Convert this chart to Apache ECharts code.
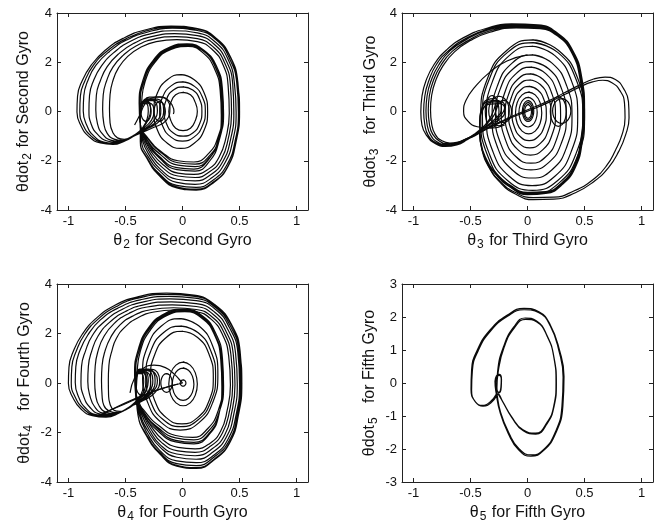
<!DOCTYPE html>
<html>
<head>
<meta charset="utf-8">
<script src="https://cdn.jsdelivr.net/npm/echarts@6/dist/echarts.min.js"></script>
<style>
  html, body { margin: 0; padding: 0; background: #fff; }
  #chart { width: 658px; height: 527px; }
</style>
</head>
<body>
<div id="chart"></div>
<script>
// ---- tick values ----
const thetaTicks = [-1, -0.5, 0, 0.5, 1];

// ---- Second gyro: phase trajectory (theta, thetadot) ----
// wide kidney-shaped excursions around the left lobe (one continuous path);
// each pass curls through a small loop left of the origin before dropping into the lobe
const gyro2Outer = [
  [-0.375,-0.45],[-0.37,0.15],[-0.34,0.42],[-0.30,0.40],[-0.28,0.05],[-0.30,-0.32],[-0.35,-0.68],[-0.43,-0.98],[-0.51,-1.20],[-0.61,-1.34],[-0.72,-1.28],[-0.82,-1.02],[-0.89,-0.58],[-0.925,-0.02],[-0.92,0.62],[-0.88,1.24],[-0.80,1.88],[-0.68,2.48],[-0.52,2.97],[-0.33,3.31],[-0.10,3.47],[0.12,3.38],[0.30,2.96],[0.42,2.22],[0.485,1.20],[0.50,0.00],[0.47,-1.22],[0.40,-2.22],[0.28,-2.86],[0.12,-3.19],[-0.05,-3.10],[-0.20,-2.62],[-0.31,-1.92],[-0.37,-1.22],
  [-0.37,-0.45],[-0.36,0.20],[-0.31,0.52],[-0.22,0.50],[-0.165,0.05],[-0.20,-0.38],[-0.30,-0.68],[-0.42,-0.98],[-0.50,-1.19],[-0.60,-1.32],[-0.71,-1.26],[-0.80,-1.00],[-0.87,-0.56],[-0.90,0.00],[-0.895,0.63],[-0.855,1.25],[-0.78,1.88],[-0.66,2.46],[-0.50,2.94],[-0.32,3.27],[-0.09,3.43],[0.13,3.34],[0.30,2.93],[0.42,2.20],[0.48,1.19],[0.50,-0.02],[0.47,-1.22],[0.40,-2.20],[0.28,-2.83],[0.12,-3.15],[-0.05,-3.06],[-0.20,-2.58],[-0.31,-1.90],[-0.37,-1.22],
  [-0.37,-0.45],[-0.365,0.15],[-0.33,0.45],[-0.26,0.44],[-0.22,0.05],[-0.25,-0.36],[-0.33,-0.70],[-0.42,-0.96],[-0.50,-1.16],[-0.59,-1.30],[-0.69,-1.24],[-0.78,-0.98],[-0.84,-0.55],[-0.87,0.02],[-0.865,0.64],[-0.83,1.25],[-0.76,1.87],[-0.64,2.44],[-0.49,2.90],[-0.31,3.22],[-0.09,3.38],[0.13,3.29],[0.30,2.89],[0.41,2.17],[0.475,1.18],[0.49,-0.03],[0.46,-1.22],[0.39,-2.16],[0.27,-2.78],[0.12,-3.08],[-0.05,-3.00],[-0.20,-2.54],[-0.31,-1.88],[-0.37,-1.22],
  [-0.37,-0.45],[-0.35,0.25],[-0.29,0.58],[-0.19,0.58],[-0.11,0.15],[-0.14,-0.35],[-0.27,-0.68],[-0.41,-0.96],[-0.49,-1.13],[-0.57,-1.26],[-0.66,-1.20],[-0.74,-0.95],[-0.80,-0.52],[-0.82,0.04],[-0.815,0.65],[-0.78,1.25],[-0.71,1.85],[-0.60,2.40],[-0.46,2.84],[-0.29,3.14],[-0.08,3.28],[0.13,3.19],[0.29,2.81],[0.40,2.11],[0.455,1.15],[0.47,-0.04],[0.44,-1.20],[0.37,-2.10],[0.26,-2.68],[0.11,-2.96],[-0.05,-2.88],[-0.19,-2.46],[-0.30,-1.84],[-0.36,-1.20],
  [-0.37,-0.45],[-0.37,0.10],[-0.34,0.36],[-0.285,0.34],[-0.25,0.00],[-0.27,-0.34],[-0.34,-0.68],[-0.41,-0.94],[-0.48,-1.11],[-0.55,-1.22],[-0.63,-1.16],[-0.70,-0.92],[-0.745,-0.50],[-0.76,0.06],[-0.755,0.66],[-0.72,1.25],[-0.66,1.82],[-0.56,2.34],[-0.43,2.76],[-0.27,3.04],[-0.07,3.16],[0.13,3.08],[0.28,2.72],[0.385,2.04],[0.44,1.12],[0.45,-0.05],[0.42,-1.16],[0.355,-2.02],[0.25,-2.56],[0.11,-2.82],[-0.05,-2.75],[-0.19,-2.36],[-0.29,-1.78],[-0.35,-1.18],
  [-0.37,-0.45],[-0.36,0.18],[-0.32,0.48],[-0.24,0.46],[-0.19,0.05],[-0.22,-0.36],[-0.32,-0.70],[-0.41,-0.92],[-0.47,-1.08],[-0.53,-1.18],[-0.60,-1.12],[-0.66,-0.89],[-0.69,-0.48],[-0.70,0.08],[-0.695,0.67],[-0.665,1.25],[-0.61,1.80],[-0.52,2.28],[-0.40,2.68],[-0.25,2.94],[-0.06,3.04],[0.13,2.96],[0.27,2.62],[0.37,1.97],[0.42,1.08],[0.43,-0.06],[0.40,-1.12],[0.34,-1.94],[0.24,-2.44],[0.11,-2.68],[-0.04,-2.62],[-0.18,-2.26],[-0.28,-1.72],[-0.34,-1.16],
  [-0.37,-0.45],[-0.37,0.12],[-0.35,0.34],[-0.315,0.32],[-0.30,0.02],[-0.31,-0.30],[-0.35,-0.66],[-0.40,-0.90],[-0.45,-1.05],[-0.51,-1.13],[-0.57,-1.07],[-0.61,-0.86],[-0.635,-0.46],[-0.64,0.10],[-0.635,0.68],[-0.61,1.25],[-0.56,1.78],[-0.48,2.24],[-0.37,2.60],[-0.23,2.84],[-0.05,2.92],[0.13,2.84],[0.26,2.52],[0.355,1.90],[0.40,1.04],[0.41,-0.07],[0.38,-1.08],[0.32,-1.86],[0.23,-2.33],[0.10,-2.55],[-0.04,-2.50],[-0.17,-2.16],[-0.27,-1.66],[-0.33,-1.14],[-0.37,-0.55]
];
// dense band of orbits around the origin
const gyro2Band = [
  [-0.37,-0.55],[-0.37,0.30],[-0.34,1.20],[-0.25,2.05],[-0.10,2.60],[0.05,2.72],[0.19,2.45],[0.29,1.80],[0.34,0.90],[0.35,-0.10],[0.31,-1.05],[0.23,-1.70],[0.10,-2.05],[-0.04,-2.00],[-0.18,-1.65],[-0.30,-1.10],
  [-0.37,-0.52],[-0.38,0.32],[-0.35,1.22],[-0.26,2.06],[-0.11,2.62],[0.04,2.75],[0.19,2.48],[0.30,1.82],[0.35,0.90],[0.36,-0.12],[0.32,-1.10],[0.24,-1.78],[0.11,-2.14],[-0.04,-2.08],[-0.18,-1.70],[-0.30,-1.12],
  [-0.37,-0.50],[-0.37,0.32],[-0.34,1.20],[-0.25,2.02],[-0.10,2.56],[0.05,2.68],[0.19,2.42],[0.29,1.78],[0.34,0.88],[0.35,-0.14],[0.32,-1.14],[0.24,-1.86],[0.11,-2.24],[-0.04,-2.18],[-0.19,-1.76],[-0.31,-1.15],
  [-0.37,-0.50],[-0.36,0.30],[-0.33,1.18],[-0.24,2.00],[-0.10,2.52],[0.05,2.64],[0.18,2.38],[0.28,1.74],[0.33,0.86],[0.34,-0.14],[0.31,-1.18],[0.23,-1.94],[0.10,-2.34],[-0.05,-2.28],[-0.20,-1.84],[-0.31,-1.18],
  [-0.37,-0.52],[-0.37,0.30],[-0.34,1.20],[-0.25,2.04],[-0.10,2.58],[0.05,2.70],[0.19,2.44],[0.29,1.80],[0.345,0.90],[0.355,-0.10],[0.32,-1.20],[0.24,-2.00],[0.11,-2.42],[-0.05,-2.36],[-0.20,-1.90],[-0.32,-1.20],[-0.37,-0.50]
];
// closed orbits near the origin
const gyro2Rings = [
  [[-0.015,1.50],[0.10,1.30],[0.19,0.75],[0.22,0.00],[0.19,-0.75],[0.10,-1.30],[-0.015,-1.50],[-0.13,-1.30],[-0.22,-0.75],[-0.25,0.00],[-0.22,0.75],[-0.13,1.30]],
  [[0.00,1.20],[0.10,1.04],[0.173,0.60],[0.20,0.00],[0.173,-0.60],[0.10,-1.04],[0.00,-1.20],[-0.10,-1.04],[-0.173,-0.60],[-0.20,0.00],[-0.173,0.60],[-0.10,1.04]],
  [[0.005,1.00],[0.09,0.87],[0.15,0.50],[0.17,0.00],[0.15,-0.50],[0.09,-0.87],[0.005,-1.00],[-0.08,-0.87],[-0.14,-0.50],[-0.16,0.00],[-0.14,0.50],[-0.08,0.87]],
  [[0.005,0.78],[0.07,0.68],[0.11,0.39],[0.13,0.00],[0.11,-0.39],[0.07,-0.68],[0.005,-0.78],[-0.06,-0.68],[-0.10,-0.39],[-0.12,0.00],[-0.10,0.39],[-0.06,0.68]]
];
// small loops left of the origin
const gyro2Small = [
  [[-0.32,0.40],[-0.2975,0.346],[-0.281,0.20],[-0.275,0.00],[-0.281,-0.20],[-0.2975,-0.346],[-0.32,-0.40],[-0.3425,-0.346],[-0.359,-0.20],[-0.365,0.00],[-0.359,0.20],[-0.3425,0.346]],
  [[-0.20,0.40],[-0.175,0.346],[-0.157,0.20],[-0.15,0.00],[-0.157,-0.20],[-0.175,-0.346],[-0.20,-0.40],[-0.225,-0.346],[-0.243,-0.20],[-0.25,0.00],[-0.243,0.20],[-0.225,0.346]]
];
const gyro2Arc = [[-0.42,-0.55],[-0.37,-0.10],[-0.33,0.30],[-0.27,0.55],[-0.20,0.60],[-0.13,0.48],[-0.09,0.25],[-0.075,0.00],[-0.08,-0.10]];

// ---- Third gyro ----
// left-lobe excursions that wrap the large central orbit
const gyro3Lobe = [
  [-0.28,0.30],[-0.31,-0.10],[-0.36,-0.48],[-0.44,-0.85],[-0.53,-1.15],[-0.62,-1.36],[-0.72,-1.42],[-0.81,-1.30],[-0.88,-1.00],[-0.925,-0.55],[-0.935,-0.02],[-0.925,0.62],[-0.89,1.25],[-0.82,1.90],[-0.71,2.50],[-0.56,3.00],[-0.37,3.36],[-0.14,3.56],[0.09,3.52],[0.27,3.16],[0.40,2.45],[0.475,1.40],[0.50,0.10],[0.48,-1.20],[0.42,-2.25],[0.31,-2.95],[0.16,-3.33],[0.00,-3.38],[-0.15,-3.08],[-0.28,-2.55],[-0.37,-1.90],[-0.41,-1.20],[-0.42,-0.50],[-0.40,0.15],[-0.35,0.48],[-0.29,0.52],[-0.26,0.30],
  [-0.27,0.12],[-0.30,-0.20],[-0.37,-0.55],[-0.46,-0.90],[-0.55,-1.17],[-0.63,-1.33],[-0.72,-1.38],[-0.80,-1.27],[-0.87,-0.97],[-0.90,-0.53],[-0.91,0.00],[-0.90,0.63],[-0.865,1.25],[-0.80,1.90],[-0.69,2.48],[-0.54,2.97],[-0.36,3.33],[-0.13,3.52],[0.10,3.48],[0.27,3.13],[0.40,2.43],[0.475,1.38],[0.50,0.08],[0.48,-1.22],[0.42,-2.26],[0.31,-2.94],[0.16,-3.31],[0.00,-3.35],[-0.15,-3.06],[-0.28,-2.53],[-0.37,-1.88],[-0.41,-1.20],[-0.42,-0.52],[-0.40,0.10],[-0.34,0.42],[-0.27,0.45],[-0.23,0.25],
  [-0.23,0.05],[-0.28,-0.28],[-0.37,-0.62],[-0.47,-0.94],[-0.56,-1.16],[-0.64,-1.30],[-0.72,-1.34],[-0.79,-1.24],[-0.85,-0.95],[-0.88,-0.52],[-0.89,0.02],[-0.88,0.64],[-0.845,1.25],[-0.78,1.88],[-0.68,2.46],[-0.53,2.94],[-0.35,3.30],[-0.12,3.48],[0.10,3.44],[0.27,3.10],[0.40,2.41],[0.47,1.36],[0.495,0.06],[0.475,-1.22],[0.415,-2.26],[0.305,-2.93],[0.16,-3.29],[0.00,-3.32],[-0.15,-3.04],[-0.28,-2.51],[-0.37,-1.86],[-0.41,-1.20],[-0.42,-0.54],[-0.39,0.08],[-0.32,0.38],[-0.24,0.40],[-0.20,0.20],
  [-0.21,0.00],[-0.27,-0.32],[-0.37,-0.66],[-0.47,-0.96],[-0.56,-1.16],[-0.63,-1.28],[-0.70,-1.31],[-0.77,-1.21],[-0.83,-0.93],[-0.86,-0.51],[-0.87,0.04],[-0.86,0.65],[-0.825,1.25],[-0.76,1.87],[-0.66,2.44],[-0.51,2.91],[-0.34,3.26],[-0.11,3.44],[0.11,3.40],[0.27,3.07],[0.39,2.39],[0.465,1.34],[0.49,0.04],[0.47,-1.22],[0.41,-2.25],[0.30,-2.92],[0.16,-3.27],[0.00,-3.30],[-0.15,-3.02],[-0.28,-2.50],[-0.37,-1.85],[-0.41,-1.20],[-0.42,-0.56],[-0.40,0.00],[-0.33,0.30],[-0.25,0.32],[-0.20,0.12],
  [-0.20,-0.05],[-0.26,-0.36],[-0.36,-0.70],[-0.46,-0.98],[-0.55,-1.15],[-0.62,-1.25],[-0.68,-1.28],[-0.75,-1.19],[-0.81,-0.92],[-0.84,-0.50],[-0.85,0.06],[-0.84,0.66],[-0.805,1.25],[-0.74,1.86],[-0.64,2.42],[-0.50,2.88],[-0.33,3.22],[-0.10,3.40],[0.11,3.36],[0.27,3.04],[0.39,2.37],[0.46,1.32],[0.485,0.02],[0.465,-1.22],[0.405,-2.24],[0.30,-2.90],[0.16,-3.25],[0.00,-3.28],[-0.15,-3.00],[-0.28,-2.48],[-0.37,-1.84],[-0.41,-1.20],[-0.42,-0.58],[-0.41,0.00]
];
// excursions into the right lobe
const gyro3RightLobe = [
  [[-0.66,-1.36],[-0.52,-1.08],[-0.38,-0.74],[-0.24,-0.42],[-0.10,-0.12],[0.04,0.14],[0.18,0.42],[0.32,0.75],[0.46,1.08],[0.58,1.32],[0.68,1.40],[0.77,1.30],[0.84,0.95],[0.885,0.40],[0.89,-0.25],[0.86,-0.95],[0.80,-1.62],[0.71,-2.28],[0.58,-2.85],[0.42,-3.30],[0.23,-3.56],[0.05,-3.58],[-0.11,-3.34],[-0.24,-2.88],[-0.34,-2.25],[-0.40,-1.55],[-0.42,-0.85]],
  [[-0.62,-1.30],[-0.49,-1.03],[-0.36,-0.72],[-0.23,-0.43],[-0.09,-0.15],[0.05,0.10],[0.19,0.38],[0.33,0.70],[0.46,1.00],[0.57,1.20],[0.66,1.27],[0.74,1.17],[0.81,0.85],[0.85,0.35],[0.855,-0.25],[0.83,-0.92],[0.77,-1.58],[0.69,-2.22],[0.57,-2.78],[0.41,-3.22],[0.23,-3.48],[0.05,-3.50],[-0.11,-3.28],[-0.24,-2.84],[-0.34,-2.22],[-0.40,-1.52],[-0.42,-0.85]]
];
// nested orbits about the origin
const gyro3Rings = [
  [[0.045,2.91],[0.27,2.49],[0.44,1.35],[0.50,-0.22],[0.44,-1.79],[0.27,-2.93],[0.045,-3.35],[-0.18,-2.93],[-0.35,-1.79],[-0.41,-0.22],[-0.35,1.35],[-0.18,2.49]],
  [[0.045,2.80],[0.265,2.40],[0.426,1.30],[0.485,-0.20],[0.426,-1.70],[0.265,-2.80],[0.045,-3.20],[-0.175,-2.80],[-0.336,-1.70],[-0.395,-0.20],[-0.336,1.30],[-0.175,2.40]],
  [[0.04,2.65],[0.24,2.27],[0.386,1.235],[0.44,-0.18],[0.386,-1.595],[0.24,-2.63],[0.04,-3.01],[-0.16,-2.63],[-0.306,-1.595],[-0.36,-0.18],[-0.306,1.235],[-0.16,2.27]],
  [[0.04,2.30],[0.215,1.965],[0.343,1.05],[0.39,-0.20],[0.343,-1.45],[0.215,-2.365],[0.04,-2.70],[-0.135,-2.365],[-0.263,-1.45],[-0.31,-0.20],[-0.263,1.05],[-0.135,1.965]],
  [[0.03,2.03],[0.185,1.735],[0.298,0.93],[0.34,-0.17],[0.298,-1.27],[0.185,-2.075],[0.03,-2.37],[-0.125,-2.075],[-0.238,-1.27],[-0.28,-0.17],[-0.238,0.93],[-0.125,1.735]],
  [[0.03,1.80],[0.16,1.539],[0.255,0.825],[0.29,-0.15],[0.255,-1.125],[0.16,-1.839],[0.03,-2.10],[-0.10,-1.839],[-0.195,-1.125],[-0.23,-0.15],[-0.195,0.825],[-0.10,1.539]],
  [[0.025,1.53],[0.135,1.309],[0.215,0.705],[0.245,-0.12],[0.215,-0.945],[0.135,-1.549],[0.025,-1.77],[-0.085,-1.549],[-0.165,-0.945],[-0.195,-0.12],[-0.165,0.705],[-0.085,1.309]],
  [[0.02,1.28],[0.1125,1.095],[0.18,0.59],[0.205,-0.10],[0.18,-0.79],[0.1125,-1.295],[0.02,-1.48],[-0.0725,-1.295],[-0.14,-0.79],[-0.165,-0.10],[-0.14,0.59],[-0.0725,1.095]],
  [[0.015,1.02],[0.09,0.873],[0.145,0.47],[0.165,-0.08],[0.145,-0.63],[0.09,-1.033],[0.015,-1.18],[-0.06,-1.033],[-0.115,-0.63],[-0.135,-0.08],[-0.115,0.47],[-0.06,0.873]],
  [[0.01,0.79],[0.0675,0.676],[0.11,0.365],[0.125,-0.06],[0.11,-0.485],[0.0675,-0.796],[0.01,-0.91],[-0.0475,-0.796],[-0.09,-0.485],[-0.105,-0.06],[-0.09,0.365],[-0.0475,0.676]],
  [[0.005,0.57],[0.045,0.49],[0.074,0.27],[0.085,-0.03],[0.074,-0.33],[0.045,-0.55],[0.005,-0.63],[-0.035,-0.55],[-0.064,-0.33],[-0.075,-0.03],[-0.064,0.27],[-0.035,0.49]],
  [[0.005,0.44],[0.03,0.384],[0.048,0.23],[0.055,0.02],[0.048,-0.19],[0.03,-0.344],[0.005,-0.40],[-0.02,-0.344],[-0.038,-0.19],[-0.045,0.02],[-0.038,0.23],[-0.02,0.384]],
  [[0.005,0.36],[0.025,0.313],[0.04,0.185],[0.045,0.01],[0.04,-0.165],[0.025,-0.293],[0.005,-0.34],[-0.015,-0.293],[-0.03,-0.165],[-0.035,0.01],[-0.03,0.185],[-0.015,0.313]],
  [[0.005,0.28],[0.02,0.242],[0.031,0.14],[0.035,0.00],[0.031,-0.14],[0.02,-0.242],[0.005,-0.28],[-0.01,-0.242],[-0.021,-0.14],[-0.025,0.00],[-0.021,0.14],[-0.01,0.242]]
];
// small loops on both sides of the origin
const gyro3Small = [
  [[-0.31,0.65],[-0.28,0.563],[-0.258,0.325],[-0.25,0.00],[-0.258,-0.325],[-0.28,-0.563],[-0.31,-0.65],[-0.34,-0.563],[-0.362,-0.325],[-0.37,0.00],[-0.362,0.325],[-0.34,0.563]],
  [[-0.25,0.62],[-0.205,0.54],[-0.172,0.32],[-0.16,0.02],[-0.172,-0.28],[-0.205,-0.50],[-0.25,-0.58],[-0.295,-0.50],[-0.328,-0.28],[-0.34,0.02],[-0.328,0.32],[-0.295,0.54]],
  [[-0.21,0.45],[-0.175,0.39],[-0.149,0.225],[-0.14,0.00],[-0.149,-0.225],[-0.175,-0.39],[-0.21,-0.45],[-0.245,-0.39],[-0.271,-0.225],[-0.28,0.00],[-0.271,0.225],[-0.245,0.39]],
  [[0.27,0.60],[0.305,0.52],[0.331,0.30],[0.34,0.00],[0.331,-0.30],[0.305,-0.52],[0.27,-0.60],[0.235,-0.52],[0.209,-0.30],[0.20,0.00],[0.209,0.30],[0.235,0.52]],
  [[0.30,0.52],[0.34,0.453],[0.369,0.27],[0.38,0.02],[0.369,-0.23],[0.34,-0.413],[0.30,-0.48],[0.26,-0.413],[0.231,-0.23],[0.22,0.02],[0.231,0.27],[0.26,0.453]]
];
const gyro3Side = [[0.00,2.30],[-0.18,2.05],[-0.33,1.60],[-0.46,1.00],[-0.54,0.45],[-0.56,0.00],[-0.52,-0.40],[-0.44,-0.62],[-0.32,-0.68],[-0.20,-0.55]];

// ---- Fourth gyro ----
const gyro4Outer = [
  [-0.405,-0.45],[-0.41,0.15],[-0.385,0.45],[-0.33,0.45],[-0.30,0.08],[-0.32,-0.32],[-0.38,-0.66],[-0.46,-0.96],[-0.55,-1.20],[-0.67,-1.38],[-0.79,-1.32],[-0.89,-1.05],[-0.96,-0.60],[-1.00,-0.02],[-0.995,0.64],[-0.955,1.30],[-0.88,1.96],[-0.76,2.60],[-0.60,3.12],[-0.40,3.47],[-0.14,3.63],[0.10,3.55],[0.29,3.14],[0.43,2.36],[0.505,1.28],[0.52,0.00],[0.49,-1.30],[0.42,-2.36],[0.29,-3.06],[0.12,-3.45],[-0.05,-3.36],[-0.20,-2.86],[-0.32,-2.10],[-0.39,-1.30],
  [-0.405,-0.45],[-0.40,0.20],[-0.36,0.55],[-0.27,0.55],[-0.20,0.08],[-0.24,-0.38],[-0.34,-0.70],[-0.46,-0.96],[-0.55,-1.19],[-0.66,-1.36],[-0.78,-1.30],[-0.87,-1.03],[-0.94,-0.58],[-0.975,0.00],[-0.97,0.65],[-0.93,1.30],[-0.86,1.95],[-0.74,2.58],[-0.58,3.09],[-0.39,3.43],[-0.13,3.58],[0.11,3.50],[0.29,3.10],[0.43,2.33],[0.50,1.27],[0.52,-0.02],[0.49,-1.30],[0.42,-2.34],[0.29,-3.03],[0.12,-3.42],[-0.05,-3.33],[-0.20,-2.84],[-0.32,-2.08],[-0.39,-1.30],
  [-0.405,-0.45],[-0.41,0.18],[-0.38,0.50],[-0.31,0.50],[-0.26,0.10],[-0.29,-0.34],[-0.37,-0.68],[-0.46,-0.95],[-0.54,-1.18],[-0.65,-1.34],[-0.76,-1.28],[-0.85,-1.01],[-0.91,-0.57],[-0.94,0.02],[-0.935,0.66],[-0.90,1.30],[-0.83,1.94],[-0.72,2.55],[-0.56,3.04],[-0.37,3.36],[-0.12,3.50],[0.11,3.43],[0.29,3.05],[0.42,2.30],[0.495,1.26],[0.51,-0.03],[0.48,-1.30],[0.41,-2.32],[0.28,-2.98],[0.12,-3.34],[-0.05,-3.26],[-0.20,-2.80],[-0.32,-2.06],[-0.39,-1.30],
  [-0.405,-0.45],[-0.41,0.10],[-0.39,0.38],[-0.36,0.38],[-0.34,0.05],[-0.35,-0.30],[-0.39,-0.64],[-0.46,-0.95],[-0.53,-1.15],[-0.63,-1.31],[-0.73,-1.25],[-0.81,-0.99],[-0.865,-0.56],[-0.89,0.04],[-0.885,0.67],[-0.85,1.30],[-0.79,1.92],[-0.68,2.50],[-0.53,2.97],[-0.35,3.27],[-0.11,3.40],[0.12,3.33],[0.29,2.97],[0.41,2.25],[0.485,1.24],[0.50,-0.04],[0.47,-1.28],[0.40,-2.26],[0.28,-2.90],[0.12,-3.22],[-0.05,-3.15],[-0.20,-2.72],[-0.31,-2.02],[-0.38,-1.28],
  [-0.405,-0.45],[-0.40,0.16],[-0.37,0.50],[-0.29,0.50],[-0.22,0.10],[-0.26,-0.36],[-0.35,-0.68],[-0.45,-0.94],[-0.52,-1.13],[-0.61,-1.28],[-0.70,-1.22],[-0.77,-0.96],[-0.81,-0.54],[-0.83,0.06],[-0.825,0.68],[-0.795,1.30],[-0.74,1.90],[-0.64,2.45],[-0.50,2.89],[-0.33,3.17],[-0.10,3.28],[0.12,3.21],[0.28,2.87],[0.395,2.18],[0.465,1.20],[0.48,-0.05],[0.45,-1.25],[0.385,-2.18],[0.27,-2.78],[0.12,-3.08],[-0.05,-3.00],[-0.19,-2.62],[-0.30,-1.96],[-0.37,-1.26],
  [-0.405,-0.45],[-0.41,0.14],[-0.385,0.44],[-0.32,0.44],[-0.28,0.06],[-0.30,-0.34],[-0.37,-0.68],[-0.45,-0.94],[-0.51,-1.11],[-0.59,-1.24],[-0.67,-1.18],[-0.73,-0.93],[-0.76,-0.52],[-0.77,0.08],[-0.765,0.69],[-0.74,1.30],[-0.69,1.87],[-0.60,2.40],[-0.47,2.81],[-0.31,3.07],[-0.09,3.16],[0.12,3.09],[0.27,2.77],[0.38,2.10],[0.445,1.16],[0.46,-0.06],[0.43,-1.22],[0.37,-2.10],[0.26,-2.66],[0.11,-2.94],[-0.05,-2.87],[-0.19,-2.52],[-0.29,-1.90],[-0.36,-1.24],
  [-0.405,-0.45],[-0.41,0.12],[-0.39,0.42],[-0.35,0.42],[-0.32,0.06],[-0.335,-0.30],[-0.385,-0.66],[-0.44,-0.92],[-0.50,-1.09],[-0.57,-1.20],[-0.64,-1.14],[-0.69,-0.90],[-0.705,-0.50],[-0.71,0.10],[-0.705,0.70],[-0.68,1.28],[-0.63,1.84],[-0.55,2.34],[-0.43,2.72],[-0.28,2.96],[-0.08,3.04],[0.12,2.97],[0.26,2.67],[0.365,2.03],[0.425,1.12],[0.44,-0.07],[0.41,-1.18],[0.35,-2.02],[0.25,-2.54],[0.11,-2.80],[-0.04,-2.74],[-0.18,-2.42],[-0.28,-1.84],[-0.35,-1.22],
  [-0.405,-0.45],[-0.405,0.20],[-0.375,0.56],[-0.30,0.56],[-0.24,0.12],[-0.27,-0.34],[-0.36,-0.68],[-0.44,-0.90],[-0.49,-1.06],[-0.55,-1.15],[-0.60,-1.10],[-0.635,-0.86],[-0.648,-0.48],[-0.65,0.12],[-0.645,0.72],[-0.62,1.28],[-0.58,1.80],[-0.50,2.28],[-0.39,2.64],[-0.25,2.87],[-0.07,2.95],[0.12,2.88],[0.25,2.58],[0.35,1.96],[0.405,1.08],[0.42,-0.08],[0.39,-1.14],[0.335,-1.94],[0.24,-2.44],[0.11,-2.66],[-0.04,-2.60],[-0.17,-2.30],[-0.27,-1.78],[-0.34,-1.20],[-0.40,-0.55]
];
const gyro4Band = [
  [-0.41,-0.55],[-0.41,0.35],[-0.38,1.30],[-0.29,2.20],[-0.14,2.80],[0.02,2.96],[0.17,2.70],[0.28,2.00],[0.34,1.00],[0.35,-0.10],[0.31,-1.15],[0.22,-1.85],[0.09,-2.20],[-0.06,-2.12],[-0.20,-1.75],[-0.33,-1.15],
  [-0.41,-0.52],[-0.42,0.36],[-0.39,1.32],[-0.30,2.22],[-0.15,2.82],[0.01,2.99],[0.17,2.73],[0.29,2.02],[0.35,1.00],[0.36,-0.12],[0.32,-1.20],[0.23,-1.93],[0.10,-2.30],[-0.06,-2.22],[-0.21,-1.82],[-0.34,-1.18],
  [-0.41,-0.50],[-0.41,0.34],[-0.38,1.30],[-0.29,2.18],[-0.14,2.76],[0.02,2.92],[0.17,2.66],[0.28,1.98],[0.34,0.98],[0.35,-0.14],[0.32,-1.24],[0.24,-2.00],[0.10,-2.40],[-0.06,-2.32],[-0.21,-1.88],[-0.34,-1.20],
  [-0.41,-0.50],[-0.40,0.32],[-0.37,1.28],[-0.28,2.15],[-0.14,2.72],[0.02,2.88],[0.17,2.62],[0.28,1.95],[0.335,0.96],[0.345,-0.14],[0.32,-1.26],[0.24,-2.05],[0.10,-2.46],[-0.06,-2.38],[-0.22,-1.92],[-0.35,-1.22],[-0.41,-0.50]
];
const gyro4Rings = [
  [[-0.02,2.60],[0.145,2.30],[0.266,1.475],[0.31,0.35],[0.266,-0.775],[0.145,-1.60],[-0.02,-1.90],[-0.185,-1.60],[-0.306,-0.775],[-0.35,0.35],[-0.306,1.475],[-0.185,2.30]],
  [[-0.015,2.30],[0.1375,2.028],[0.249,1.285],[0.29,0.27],[0.249,-0.745],[0.1375,-1.488],[-0.015,-1.76],[-0.1675,-1.488],[-0.279,-0.745],[-0.32,0.27],[-0.279,1.285],[-0.1675,2.028]],
  [[-0.005,2.09],[0.1325,1.839],[0.233,1.155],[0.27,0.22],[0.233,-0.715],[0.1325,-1.399],[-0.005,-1.65],[-0.1425,-1.399],[-0.243,-0.715],[-0.28,0.22],[-0.243,1.155],[-0.1425,1.839]]
];
const gyro4Core = [
  [[0.005,0.84],[0.0675,0.722],[0.113,0.40],[0.13,-0.04],[0.113,-0.48],[0.0675,-0.802],[0.005,-0.92],[-0.0575,-0.802],[-0.103,-0.48],[-0.12,-0.04],[-0.103,0.40],[-0.0575,0.722]],
  [[0.005,0.60],[0.0525,0.513],[0.087,0.275],[0.10,-0.05],[0.087,-0.375],[0.0525,-0.613],[0.005,-0.70],[-0.0425,-0.613],[-0.077,-0.375],[-0.09,-0.05],[-0.077,0.275],[-0.0425,0.513]],
  [[0.005,0.13],[0.0175,0.113],[0.027,0.065],[0.03,0.00],[0.027,-0.065],[0.0175,-0.113],[0.005,-0.13],[-0.0075,-0.113],[-0.017,-0.065],[-0.02,0.00],[-0.017,0.065],[-0.0075,0.113]]
];
const gyro4Small = [
  [[-0.36,0.50],[-0.335,0.433],[-0.317,0.25],[-0.31,0.00],[-0.317,-0.25],[-0.335,-0.433],[-0.36,-0.50],[-0.385,-0.433],[-0.403,-0.25],[-0.41,0.00],[-0.403,0.25],[-0.385,0.433]],
  [[-0.14,0.38],[-0.115,0.329],[-0.097,0.19],[-0.09,0.00],[-0.097,-0.19],[-0.115,-0.329],[-0.14,-0.38],[-0.165,-0.329],[-0.183,-0.19],[-0.19,0.00],[-0.183,0.19],[-0.165,0.329]]
];
const gyro4Tails = [
  [[-0.46,-0.40],[-0.42,0.20],[-0.35,0.58],[-0.25,0.72],[-0.15,0.62],[-0.07,0.35],[-0.02,0.10],[0.00,0.00]],
  [[0.00,0.00],[-0.12,-0.15],[-0.28,-0.38],[-0.45,-0.70],[-0.60,-1.02],[-0.72,-1.30]],
  [[-0.70,-1.22],[-0.52,-0.88],[-0.36,-0.55],[-0.18,-0.22],[-0.04,-0.04]]
];

// ---- Fifth gyro: two passes of a nearly periodic orbit ----
const gyro5Orbit = [
  [-0.27,-0.32],[-0.33,-0.58],[-0.40,-0.68],[-0.46,-0.56],[-0.495,-0.20],[-0.49,0.40],[-0.44,1.00],[-0.33,1.60],[-0.18,2.05],[-0.03,2.26],[0.10,2.16],[0.20,1.76],[0.28,1.00],[0.32,0.20],[0.31,-0.70],[0.25,-1.50],[0.14,-2.05],[0.03,-2.22],[-0.08,-2.02],[-0.17,-1.52],[-0.24,-0.90],[-0.275,-0.30],[-0.285,0.05],[-0.272,0.22],[-0.25,0.26],[-0.228,0.12],[-0.23,-0.12],[-0.25,-0.30],[-0.27,-0.15],[-0.262,0.35],[-0.21,1.10],[-0.12,1.70],[-0.02,1.97],[0.08,1.88],[0.17,1.45],[0.23,0.80],[0.25,0.00],[0.23,-0.70],[0.17,-1.20],[0.07,-1.52],[-0.04,-1.42],[-0.14,-1.02],[-0.22,-0.55],[-0.26,-0.33],
  [-0.265,-0.34],[-0.32,-0.60],[-0.39,-0.70],[-0.455,-0.58],[-0.49,-0.22],[-0.483,0.38],[-0.432,0.98],[-0.322,1.58],[-0.175,2.02],[-0.03,2.22],[0.10,2.13],[0.20,1.73],[0.275,0.98],[0.312,0.18],[0.302,-0.70],[0.245,-1.48],[0.14,-2.02],[0.035,-2.18],[-0.075,-1.99],[-0.165,-1.50],[-0.235,-0.90],[-0.268,-0.32],[-0.28,0.03],[-0.268,0.20],[-0.248,0.23],[-0.23,0.10],[-0.233,-0.12],[-0.252,-0.28],[-0.268,-0.14],[-0.257,0.34],[-0.205,1.08],[-0.115,1.67],[-0.015,1.93],[0.082,1.85],[0.172,1.42],[0.232,0.78],[0.253,-0.02],[0.232,-0.72],[0.172,-1.23],[0.072,-1.55],[-0.037,-1.45],[-0.137,-1.05],[-0.215,-0.58],[-0.255,-0.35]
];

// ---- axis titles ----
const xTitles = [['θ', '2', ' for Second Gyro'], ['θ', '3', ' for Third Gyro'], ['θ', '4', ' for Fourth Gyro'], ['θ', '5', ' for Fifth Gyro']];
const yTitles = [['θdot', '2', ' for Second Gyro'], ['θdot', '3', '   for Third Gyro'], ['θdot', '4', '   for Fourth Gyro'], ['θdot', '5', '   for Fifth Gyro']];
const yRanges = [[-4, 4, 2], [-4, 4, 2], [-4, 4, 2], [-3, 3, 1]];

// ---- layout & styling ----
const FONT = '"Liberation Sans", Arial, Helvetica, sans-serif';
const INK = '#111';
const FRAME = '#222';
const gridBoxes = [
  { left: 57, top: 13, width: 251, height: 197 },
  { left: 402, top: 13, width: 251, height: 197 },
  { left: 57, top: 284, width: 251, height: 198 },
  { left: 402, top: 284, width: 251, height: 198 }
];
const yNameGaps = [23, 21, 22, 22];

const rich = {
  a: { fontSize: 16, fontFamily: FONT, color: INK },
  s: { fontSize: 12, fontFamily: FONT, color: INK, padding: [9, 1, 0, 1] }
};
function title(parts) { return '{a|' + parts[0] + '}{s|' + parts[1] + '}{a|' + parts[2] + '}'; }

const xAxis = [], yAxis = [], grid = [];
gridBoxes.forEach((box, p) => {
  grid.push(Object.assign({ containLabel: false }, box));
  const frameLine = { show: true, onZero: false, lineStyle: { color: FRAME, width: 1 } };
  const tickStyle = { inside: true, length: 4, lineStyle: { color: FRAME, width: 1 } };
  xAxis.push({
    gridIndex: p, type: 'value', min: -1.1, max: 1.1, position: 'bottom',
    axisLine: frameLine,
    axisTick: Object.assign({ customValues: thetaTicks }, tickStyle),
    axisLabel: { customValues: thetaTicks, margin: 5, fontSize: 13, fontFamily: FONT, color: INK },
    splitLine: { show: false },
    name: title(xTitles[p]), nameLocation: 'middle', nameGap: 20,
    nameTextStyle: { rich: rich }
  });
  xAxis.push({
    gridIndex: p, type: 'value', min: -1.1, max: 1.1, position: 'top',
    axisLine: frameLine,
    axisTick: Object.assign({ customValues: thetaTicks }, tickStyle),
    axisLabel: { show: false }, splitLine: { show: false }
  });
  const yr = yRanges[p];
  yAxis.push({
    gridIndex: p, type: 'value', min: yr[0], max: yr[1], interval: yr[2], position: 'left',
    axisLine: frameLine, axisTick: tickStyle,
    axisLabel: { margin: 5, fontSize: 13, fontFamily: FONT, color: INK, showMinLabel: true, showMaxLabel: true },
    splitLine: { show: false },
    name: title(yTitles[p]), nameLocation: 'middle', nameGap: yNameGaps[p], nameRotate: 90,
    nameTextStyle: { rich: rich }
  });
  yAxis.push({
    gridIndex: p, type: 'value', min: yr[0], max: yr[1], interval: yr[2], position: 'right',
    axisLine: frameLine, axisTick: tickStyle,
    axisLabel: { show: false }, splitLine: { show: false }
  });
});

const series = [];
function curve(p, pts) {
  series.push({
    type: 'line', xAxisIndex: p * 2, yAxisIndex: p * 2, data: pts,
    smooth: 0.5, showSymbol: false, symbol: 'none', silent: true,
    lineStyle: { color: '#0a0a0a', width: 1.2 }
  });
}
// closed orbit: wrap past the first point so the join is smooth
function loop(p, pts) { curve(p, pts.concat([pts[0], pts[1]])); }

curve(0, gyro2Outer); curve(0, gyro2Band);
gyro2Rings.forEach(r => loop(0, r)); gyro2Small.forEach(r => loop(0, r)); curve(0, gyro2Arc);

curve(1, gyro3Lobe); gyro3RightLobe.forEach(r => curve(1, r));
gyro3Rings.forEach(r => loop(1, r)); gyro3Small.forEach(r => loop(1, r)); curve(1, gyro3Side);

curve(2, gyro4Outer); curve(2, gyro4Band);
gyro4Rings.forEach(r => loop(2, r)); gyro4Core.forEach(r => loop(2, r));
gyro4Small.forEach(r => loop(2, r)); gyro4Tails.forEach(t => curve(2, t));

curve(3, gyro5Orbit);

const chart = echarts.init(document.getElementById('chart'), null, { renderer: 'canvas' });
chart.setOption({ animation: false, backgroundColor: '#fff', grid, xAxis, yAxis, series });
</script>
</body>
</html>
